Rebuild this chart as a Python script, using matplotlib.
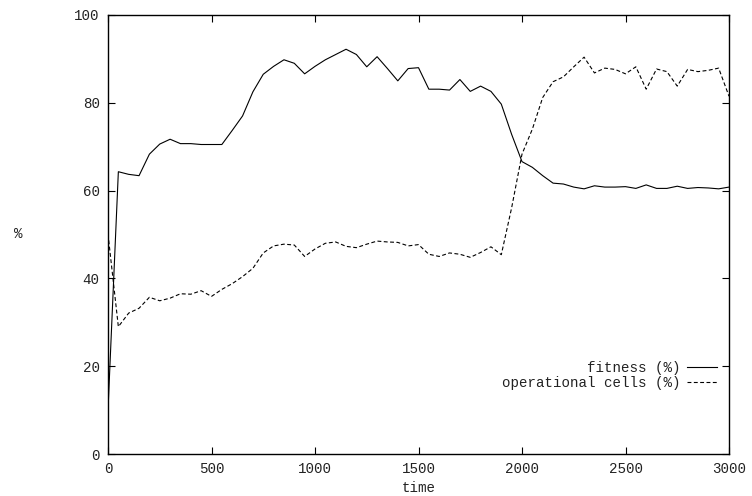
import matplotlib
matplotlib.use("Agg")
import matplotlib.pyplot as plt
import numpy as np

time = list(range(0, 3001, 50))

fitness = [10.0, 64.3, 63.7, 63.4, 68.3, 70.6, 71.7, 70.7, 70.7, 70.5,
           70.5, 70.5, 73.7, 77.0, 82.5, 86.5, 88.3, 89.8, 89.0, 86.6,
           88.3, 89.8, 91.0, 92.2, 91.0, 88.2, 90.5, 87.8, 85.0, 87.8,
           88.0, 83.1, 83.1, 82.9, 85.3, 82.6, 83.8, 82.6, 79.7, 72.8,
           66.6, 65.3, 63.4, 61.7, 61.5, 60.8, 60.4, 61.1, 60.8, 60.8,
           60.9, 60.5, 61.3, 60.5, 60.5, 61.0, 60.5, 60.7, 60.6, 60.4,
           60.8]

operational = [50.1, 29.0, 32.1, 33.2, 35.7, 34.9, 35.5, 36.5, 36.4, 37.2,
               35.9, 37.5, 38.8, 40.4, 42.3, 45.8, 47.4, 47.8, 47.6, 45.0,
               46.7, 48.0, 48.3, 47.3, 47.0, 47.8, 48.5, 48.3, 48.2, 47.4,
               47.7, 45.5, 45.0, 45.8, 45.5, 44.8, 45.9, 47.2, 45.4, 56.1,
               68.3, 74.0, 81.2, 84.8, 85.9, 88.2, 90.4, 86.8, 87.9, 87.6,
               86.6, 88.2, 83.1, 87.7, 87.1, 83.8, 87.6, 87.1, 87.4, 87.9,
               81.5]

x_ticks = [0, 500, 1000, 1500, 2000, 2500, 3000]
y_ticks = [0, 20, 40, 60, 80, 100]

FONT = "Liberation Mono"
FS = 10.2

fig = plt.figure(figsize=(7.52, 4.96), dpi=100)
ax = fig.add_axes([108/752, 1 - 454/496, (729-108)/752, (454-15)/496])

ax.plot(time, fitness, color="black", lw=0.8, label="fitness (%)")
ax.plot(time, operational, color="black", lw=0.8, linestyle=(0, (3.5, 2.2)),
        label="operational cells (%)")

ax.set_xlim(0, 3000)
ax.set_ylim(0, 100)
ax.set_xticks(x_ticks)
ax.set_yticks(y_ticks)
ax.tick_params(direction="in", length=5, width=0.8, top=True, right=True,
               labelsize=FS, pad=6, colors="black")
for lbl in ax.get_xticklabels() + ax.get_yticklabels():
    lbl.set_fontfamily(FONT)
    lbl.set_color("#222222")
for s in ax.spines.values():
    s.set_linewidth(1.0)
    s.set_color("black")

ax.set_xlabel("time", fontfamily=FONT, fontsize=FS, labelpad=3, color="#222222")
fig.text(18/752, 1 - 234/496, "%", fontfamily=FONT, fontsize=FS,
         ha="center", va="center", color="#222222")

leg = ax.legend(loc="lower right", bbox_to_anchor=(0.992, 0.13), frameon=False,
                markerfirst=False, handlelength=2.1, handletextpad=0.5,
                labelspacing=0.05, borderpad=0,
                prop={"family": FONT, "size": FS})
for t in leg.get_texts():
    t.set_color("#222222")

fig.savefig("out.png", dpi=100)
